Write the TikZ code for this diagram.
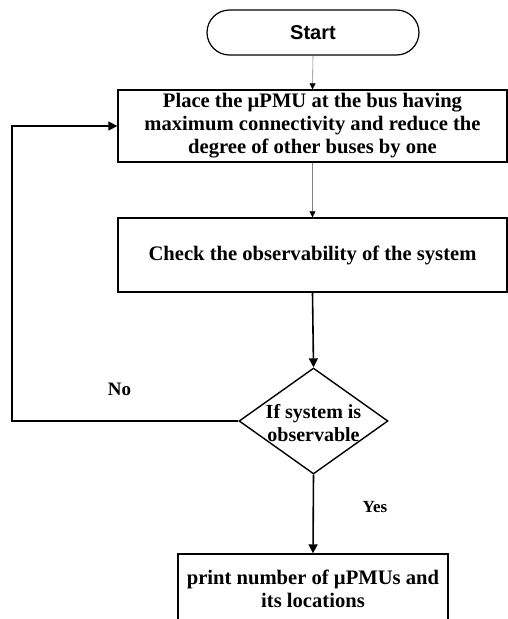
\documentclass[tikz,border=0pt]{standalone}
\usepackage{fontspec}
\setmainfont{Liberation Serif}
\newfontfamily\startfont{Liberation Sans}
\usetikzlibrary{shapes.geometric,shapes.misc,arrows.meta}
\tikzset{
  procbox/.style={draw=black, line width=1.4pt, rectangle, inner sep=0pt, align=center,
    font=\fontsize{20.6}{23}\selectfont\bfseries},
  termbox/.style={draw=black, line width=1.2pt, rounded rectangle, inner sep=0pt,
    font=\fontsize{20}{23}\selectfont\startfont\bfseries},
  decbox/.style={draw=black, line width=1.4pt, diamond, inner sep=0pt},
  dectext/.style={align=center, inner sep=0pt, font=\fontsize{20}{23}\selectfont\bfseries},
  lblno/.style={inner sep=0pt, font=\fontsize{19}{21}\selectfont\bfseries},
  lblyes/.style={inner sep=0pt, font=\fontsize{17}{19}\selectfont\bfseries},
  thinarrow/.style={draw=gray, line width=0.6pt, -{Triangle[width=6pt,length=6pt,color=black]}},
  thickarrow/.style={draw=black, line width=1.6pt, -{Triangle[width=9pt,length=9pt]}},
}
\begin{document}
\begin{tikzpicture}[x=1pt,y=-1pt]
\useasboundingbox (0,0) rectangle (508,619);
\clip (0,0) rectangle (508,619);
\fill[white] (0,0) rectangle (508,619);
\node[termbox, minimum width=212, minimum height=45] (start) at (313,32.5) {Start};
\node[procbox, minimum width=389, minimum height=72] (place) at (312.5,126)
  {Place the µPMU at the bus having\\maximum connectivity and reduce the\\degree of other buses by one};
\node[procbox, minimum width=389, minimum height=74] (check) at (312.5,255)
  {Check the observability of the system};
\node[decbox, minimum width=149, minimum height=106] (dec) at (313.5,421) {};
\node[dectext] (dectxt) at (313.5,423) {If system is\\observable};
\node[procbox, minimum width=270, minimum height=69] (print) at (313,588.5)
  {print number of µPMUs and\\its locations};
\node[lblno] (no) at (119.5,389) {No};
\node[lblyes] (yes) at (375,507) {Yes};
\coordinate (fb) at (12,126);
\draw[thinarrow] (start.south) -- (place.north);
\draw[thinarrow] (place.south) -- (check.north);
\draw[thickarrow] (check.south) -- (dec.north);
\draw[thickarrow] (dec.south) -- (print.north);
\draw[thickarrow] (dec.west) -| (fb) -- (place.west);
\end{tikzpicture}
\end{document}
